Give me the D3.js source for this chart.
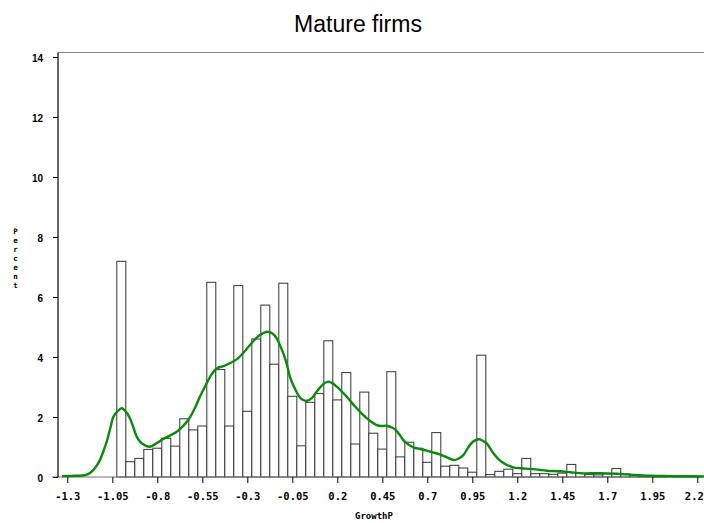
<!DOCTYPE html>
<html>
<head>
<meta charset="utf-8">
<script src="https://cdn.jsdelivr.net/npm/d3@7"></script>
<style>
  html, body { margin: 0; padding: 0; background: #fff; }
  svg { display: block; }
</style>
</head>
<body>
<svg id="chart" width="704" height="523"></svg>
<script>
// ---------- data ----------
const titleText = "Mature firms";
const xLabel = "GrowthP";
const yLabel = "Percent";

// histogram bin midpoints (width 0.05)
const binMids = [
  -1.00, -0.95, -0.90, -0.85, -0.80, -0.75, -0.70, -0.65, -0.60, -0.55,
  -0.50, -0.45, -0.40, -0.35, -0.30, -0.25, -0.20, -0.15, -0.10, -0.05,
   0.00,  0.05,  0.10,  0.15,  0.20,  0.25,  0.30,  0.35,  0.40,  0.45,
   0.50,  0.55,  0.60,  0.65,  0.70,  0.75,  0.80,  0.85,  0.90,  0.95,
   1.00,  1.05,  1.10,  1.15,  1.20,  1.25,  1.30,  1.35,  1.40,  1.45,
   1.50,  1.55,  1.60,  1.65,  1.70,  1.75,  1.80,  1.85,  1.90,  1.95,
   2.00,  2.05,  2.10,  2.15,  2.20
];
const binPercent = [
  7.19, 0.51, 0.62, 0.92, 0.96, 1.29, 1.03, 1.94, 1.57, 1.70,
  6.49, 3.58, 1.70, 6.38, 2.19, 4.60, 5.73, 3.76, 6.46, 2.69,
  1.04, 2.49, 2.78, 4.54, 2.57, 3.48, 1.10, 2.83, 1.46, 0.93,
  3.51, 0.67, 1.16, 0.96, 0.49, 1.48, 0.36, 0.39, 0.30, 0.16,
  4.06, 0.08, 0.19, 0.26, 0.11, 0.62, 0.11, 0.11, 0.09, 0.13,
  0.42, 0.12, 0.08, 0.07, 0.10, 0.28, 0.10, 0.06, 0.04, 0.03,
  0.03, 0.02, 0.02, 0.01, 0.01
];
const binWidth = 0.05;

// kernel density curve (x, percent)
const kdeX = [
  -1.33, -1.25, -1.20, -1.17, -1.14, -1.118, -1.10, -1.081, -1.06, -1.044,
  -1.02, -0.998, -0.975, -0.952, -0.93, -0.914, -0.895, -0.878, -0.86, -0.841,
  -0.80, -0.767, -0.73, -0.692, -0.66, -0.628, -0.595, -0.563, -0.526, -0.507,
  -0.47, -0.43, -0.397, -0.359, -0.32, -0.285, -0.255, -0.23, -0.189, -0.16,
  -0.137, -0.10, -0.08, -0.063, -0.04, -0.017, 0.005, 0.03, 0.06, 0.086,
  0.11, 0.13, 0.15, 0.175, 0.197, 0.225, 0.252, 0.28, 0.308, 0.335,
  0.363, 0.39, 0.419, 0.445, 0.474, 0.50, 0.521, 0.545, 0.567, 0.595,
  0.622, 0.66, 0.697, 0.73, 0.761, 0.80, 0.844, 0.87, 0.90, 0.937,
  0.965, 0.989, 1.01, 1.03, 1.067, 1.09, 1.113, 1.14, 1.178, 1.22,
  1.271, 1.32, 1.363, 1.437, 1.493, 1.567, 1.659, 1.752, 1.844, 1.937,
  2.05, 2.12, 2.24
];
const kdeY = [
  0.03, 0.04, 0.06, 0.15, 0.35, 0.57, 0.85, 1.18, 1.65, 2.01,
  2.20, 2.29, 2.18, 1.96, 1.60, 1.34, 1.17, 1.09, 1.03, 1.01,
  1.14, 1.27, 1.38, 1.51, 1.68, 1.90, 2.25, 2.68, 3.12, 3.34,
  3.62, 3.70, 3.79, 3.92, 4.15, 4.40, 4.60, 4.73, 4.84, 4.78,
  4.62, 4.12, 3.75, 3.34, 3.00, 2.73, 2.58, 2.54, 2.64, 2.85,
  3.02, 3.13, 3.18, 3.12, 3.01, 2.85, 2.68, 2.48, 2.29, 2.12,
  1.96, 1.83, 1.73, 1.70, 1.71, 1.66, 1.59, 1.42, 1.23, 1.08,
  0.99, 0.93, 0.88, 0.82, 0.77, 0.68, 0.57, 0.60, 0.73, 1.07,
  1.22, 1.26, 1.20, 1.12, 0.79, 0.63, 0.51, 0.41, 0.32, 0.29,
  0.27, 0.24, 0.21, 0.19, 0.16, 0.12, 0.13, 0.11, 0.07, 0.04,
  0.03, 0.025, 0.02
];

const xTickValues = [-1.3, -1.05, -0.8, -0.55, -0.3, -0.05, 0.2, 0.45, 0.7, 0.95, 1.2, 1.45, 1.7, 1.95, 2.2];
const xTickLabels = ["-1.3", "-1.05", "-0.8", "-0.55", "-0.3", "-0.05", "0.2", "0.45", "0.7", "0.95", "1.2", "1.45", "1.7", "1.95", "2.2"];
const yTickValues = [0, 2, 4, 6, 8, 10, 12, 14];

// ---------- drawing ----------
const svg = d3.select("#chart");
const W = 704, H = 523;
const plotLeft = 58, plotTop = 52.5, plotRight = 704;

const x = d3.scaleLinear().domain([-1.3, 2.2]).range([67.3, 697.3]);
const y = d3.scaleLinear().domain([0, 14]).range([477, 57]);

// title
svg.append("text")
  .attr("x", 358).attr("y", 32)
  .attr("text-anchor", "middle")
  .attr("font-family", "'Liberation Sans', Arial, sans-serif")
  .attr("font-size", 23)
  .attr("fill", "#000")
  .text(titleText);

// top frame line
svg.append("line")
  .attr("x1", plotLeft).attr("x2", plotRight)
  .attr("y1", plotTop).attr("y2", plotTop)
  .attr("stroke", "#888").attr("stroke-width", 1.2);

// bars
const bars = binMids.map((m, i) => ({ m, v: binPercent[i] }));
svg.append("g").selectAll("rect")
  .data(bars)
  .join("rect")
  .attr("x", d => x(d.m - binWidth / 2))
  .attr("width", d => x(d.m + binWidth / 2) - x(d.m - binWidth / 2))
  .attr("y", d => y(d.v))
  .attr("height", d => y(0) - y(d.v))
  .attr("fill", "#fff")
  .attr("stroke", "#333")
  .attr("stroke-width", 1);

// x axis baseline
svg.append("line")
  .attr("x1", 52).attr("x2", W)
  .attr("y1", y(0)).attr("y2", y(0))
  .attr("stroke", "#777").attr("stroke-width", 1.2);

// density curve
const kde = kdeX.map((v, i) => [v, kdeY[i]]);
svg.append("path")
  .datum(kde)
  .attr("fill", "none")
  .attr("stroke", "#0a8a0a")
  .attr("stroke-width", 2.4)
  .attr("stroke-linejoin", "round")
  .attr("d", d3.line().x(d => x(d[0])).y(d => y(d[1])).curve(d3.curveCatmullRom.alpha(0.5)));

// x axis
const xAxis = svg.append("g")
  .attr("transform", `translate(0,${y(0)})`)
  .call(d3.axisBottom(x)
    .tickValues(xTickValues)
    .tickFormat((d, i) => xTickLabels[i])
    .tickSize(6)
    .tickPadding(10)
    .tickSizeOuter(0));
xAxis.select(".domain").remove();
xAxis.selectAll(".tick line").attr("stroke", "#000").attr("stroke-width", 1);
xAxis.selectAll(".tick text")
  .attr("font-family", "'DejaVu Sans Mono', monospace")
  .attr("font-weight", "bold")
  .attr("font-size", 10.5)
  .attr("fill", "#000");
// last label sits at the window edge, as in the reference
xAxis.selectAll(".tick text").filter((d, i) => i === xTickValues.length - 1)
  .attr("text-anchor", "end").attr("dx", "6px");

// y axis
const yAxis = svg.append("g")
  .attr("transform", `translate(${plotLeft},0)`)
  .call(d3.axisLeft(y)
    .tickValues(yTickValues)
    .tickFormat(d3.format("d"))
    .tickSize(5)
    .tickPadding(10)
    .tickSizeOuter(0));
yAxis.select(".domain").remove();
yAxis.selectAll(".tick line").attr("stroke", "#000");
yAxis.selectAll(".tick text")
  .attr("font-family", "'Liberation Sans', Arial, sans-serif")
  .attr("font-weight", "bold")
  .attr("font-size", 10)
  .attr("dy", "0.4em")
  .attr("fill", "#000");

// y axis line
svg.append("line")
  .attr("x1", plotLeft).attr("x2", plotLeft)
  .attr("y1", plotTop).attr("y2", y(0))
  .attr("stroke", "#000").attr("stroke-width", 1.2);

// x label
svg.append("text")
  .attr("x", 374).attr("y", 519)
  .attr("text-anchor", "middle")
  .attr("font-family", "'DejaVu Sans Mono', monospace")
  .attr("font-weight", "bold")
  .attr("font-size", 9)
  .attr("fill", "#000")
  .text(xLabel);

// y label: stacked letters
svg.append("g").selectAll("text")
  .data(yLabel.split(""))
  .join("text")
  .attr("x", 15.5)
  .attr("y", (d, i) => 234 + i * 9)
  .attr("text-anchor", "middle")
  .attr("font-family", "'DejaVu Sans Mono', monospace")
  .attr("font-weight", "bold")
  .attr("font-size", 7.5)
  .attr("fill", "#000")
  .text(d => d);
</script>
</body>
</html>
